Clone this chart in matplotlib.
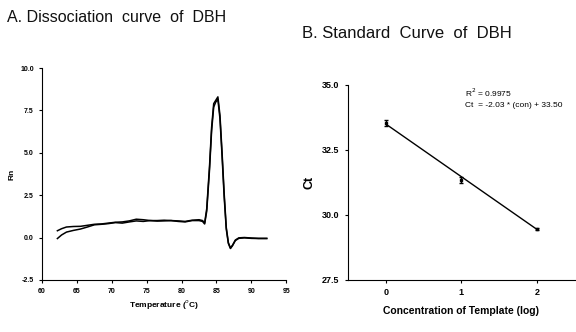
import matplotlib
matplotlib.use('Agg')
import matplotlib.pyplot as plt
import numpy as np

# A. dissociation (melt) curves
temp_a = [62.2, 62.8, 63.5, 64.5, 65.5, 66.5, 67.5, 68.5, 69.5, 70.5, 71.5, 72.5, 73.5, 74.5,
          75.5, 76.5, 77.5, 78.5, 79.5, 80.5, 81.5, 82.5, 83.0, 83.3, 83.6, 84.0, 84.3, 84.6,
          84.9, 85.2, 85.5, 85.8, 86.1, 86.4, 86.7, 87.0, 87.3, 87.7, 88.2, 89.0, 90.0, 91.0, 92.2]
rn_a = [0.40, 0.52, 0.62, 0.65, 0.66, 0.72, 0.78, 0.80, 0.85, 0.90, 0.92, 0.98, 1.08, 1.05,
        1.00, 1.00, 1.02, 1.00, 0.98, 0.95, 1.02, 1.05, 1.00, 0.85, 1.70, 4.20, 6.50, 7.90,
        8.10, 8.30, 7.20, 5.00, 2.60, 0.60, -0.30, -0.62, -0.45, -0.15, -0.02, 0.00, -0.03, -0.05, -0.05]
temp_b = [62.2, 62.8, 63.5, 64.5, 65.5, 66.5, 67.5, 68.5, 69.5, 70.5, 71.5, 72.5, 73.5, 74.5,
          75.5, 76.5, 77.5, 78.5, 79.5, 80.5, 81.5, 82.5, 83.0, 83.3, 83.6, 84.0, 84.3, 84.6,
          84.9, 85.2, 85.5, 85.8, 86.1, 86.4, 86.7, 87.0, 87.3, 87.7, 88.2, 89.0, 90.0, 91.0, 92.2]
rn_b = [-0.06, 0.15, 0.32, 0.42, 0.50, 0.62, 0.75, 0.78, 0.82, 0.88, 0.85, 0.92, 0.98, 0.95,
        1.00, 0.97, 0.98, 1.00, 0.95, 0.92, 1.00, 1.00, 0.95, 0.80, 1.55, 4.00, 6.30, 7.70,
        8.00, 8.15, 7.00, 4.80, 2.40, 0.50, -0.35, -0.65, -0.48, -0.18, -0.05, -0.02, -0.05, -0.06, -0.06]

# B. standard curve
log_conc = [0, 1, 2]
ct_mean = [33.55, 31.35, 29.45]
ct_err = [0.12, 0.12, 0.03]
slope, intercept = -2.03, 33.50

plt.rcParams['font.family'] = ['Liberation Sans', 'DejaVu Sans']

fig = plt.figure(figsize=(5.76, 3.32), dpi=100)

fig.text(0.012, 0.935, 'A. Dissociation  curve  of  DBH', fontsize=11.5, color='#111111')
fig.text(0.525, 0.885, 'B. Standard  Curve  of  DBH', fontsize=12, color='#111111')

# --- panel A
ax = fig.add_axes([0.073, 0.157, 0.424, 0.638])
ax.plot(temp_a, rn_a, color='black', lw=1.1)
ax.plot(temp_b, rn_b, color='black', lw=1.1)
ax.set_xlim(60, 95)
ax.set_ylim(-2.5, 10.0)
ax.set_xticks(np.arange(60, 96, 5))
ax.set_yticks([-2.5, 0.0, 2.5, 5.0, 7.5, 10.0])
ax.set_yticklabels(['-2.5', '0.0', '2.5', '5.0', '7.5', '10.0'])
for s in ['top', 'right']:
    ax.spines[s].set_visible(False)
ax.tick_params(labelsize=5, length=2.5, width=0.8)
for lab in ax.get_xticklabels() + ax.get_yticklabels():
    lab.set_fontweight('bold')
ax.set_xlabel('Temperature ($^o$C)', fontsize=6, fontweight='bold', labelpad=2)
ax.set_ylabel('Rn', fontsize=6, fontweight='bold', labelpad=3)

# --- panel B
bx = fig.add_axes([0.604, 0.157, 0.394, 0.587])
xs = np.array([log_conc[0], log_conc[-1]])
bx.plot(xs, slope * xs + intercept, color='black', lw=1.0)
bx.errorbar(log_conc, ct_mean, yerr=ct_err, fmt='s', ms=2.0, color='black',
            capsize=1.5, elinewidth=1.0)
bx.set_xlim(-0.5, 2.5)
bx.set_ylim(27.5, 35.0)
bx.set_xticks(log_conc)
bx.set_yticks([27.5, 30.0, 32.5, 35.0])
bx.set_yticklabels(['27.5', '30.0', '32.5', '35.0'])
for s in ['top', 'right']:
    bx.spines[s].set_visible(False)
bx.tick_params(labelsize=6.5, length=2.5, width=0.8)
for lab in bx.get_xticklabels() + bx.get_yticklabels():
    lab.set_fontweight('bold')
bx.set_xlabel('Concentration of Template (log)', fontsize=7.5, fontweight='bold', labelpad=6)
bx.set_ylabel('Ct', fontsize=9, fontweight='bold', labelpad=5)
bx.text(1.05, 34.7, 'R$^2$ = 0.9975', fontsize=6, va='center')
bx.text(1.05, 34.23, 'Ct  = -2.03 * (con) + 33.50', fontsize=6, va='center')

fig.savefig('out.png', dpi=100)
